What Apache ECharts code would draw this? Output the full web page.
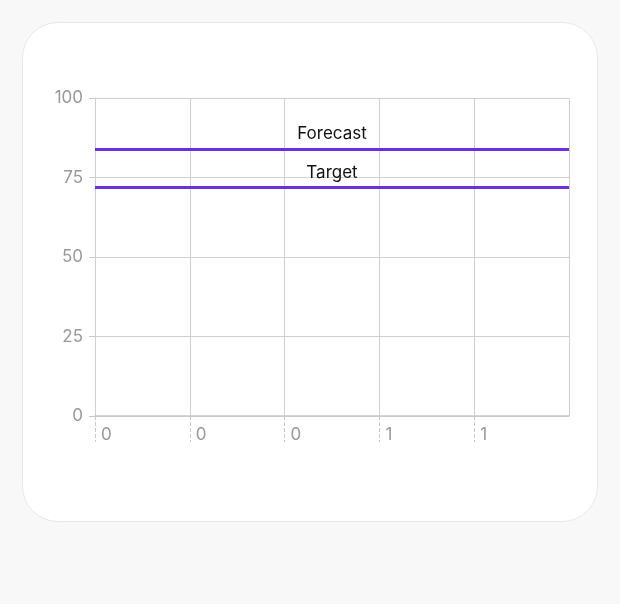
<!DOCTYPE html>
<html>
<head>
<meta charset="utf-8">
<script src="https://cdn.jsdelivr.net/npm/echarts@6/dist/echarts.min.js"></script>
<style>
	html, body { margin: 0; padding: 0; background: #f8f8f8; }
	.card {
		position: absolute; left: 22px; top: 22px; width: 574px; height: 498px;
		background: #fff; border: 1px solid #e8e8e8; border-radius: 36px; overflow: hidden;
	}
	#chart { width: 574px; height: 498px; }
</style>
</head>
<body>
<div class="card"><div id="chart"></div></div>
<script>
var xTickLabels = ['0', '0', '0', '1', '1'];
var yTicks = [0, 25, 50, 75, 100];
var lineNames = ['Forecast', 'Target'];
var lineValues = [84, 72];

var chart = echarts.init(document.getElementById('chart'));
chart.setOption({
	animation: false,
	textStyle: { fontFamily: 'Inter' },
	grid: { left: 72, top: 75, right: 28, bottom: 105 },
	xAxis: {
		type: 'value',
		min: 0,
		max: xTickLabels.length,
		interval: 1,
		axisLine: { show: true, lineStyle: { color: '#c8c8c8', width: 1.5 } },
		axisTick: { show: true, length: 26, lineStyle: { color: '#c8c8c8', type: 'dashed' } },
		splitLine: { show: true, lineStyle: { color: '#cfcfcf' } },
		axisLabel: {
			showMaxLabel: false,
			align: 'left',
			padding: [0, 0, 0, 6],
			margin: 10,
			color: '#999',
			fontSize: 17,
			formatter: function (v) { return xTickLabels[v] || ''; }
		}
	},
	yAxis: {
		type: 'value',
		min: yTicks[0],
		max: yTicks[yTicks.length - 1],
		interval: yTicks[1] - yTicks[0],
		axisLine: { show: true, lineStyle: { color: '#cfcfcf' } },
		axisTick: { show: true, length: 6, lineStyle: { color: '#c8c8c8' } },
		splitLine: { show: true, lineStyle: { color: '#cfcfcf' } },
		axisLabel: { color: '#999', fontSize: 17, margin: 12 }
	},
	series: [{
		type: 'line',
		data: [],
		markLine: {
			silent: true,
			symbol: 'none',
			lineStyle: { color: '#6c2fe0', width: 3, type: 'solid' },
			label: {
				position: 'insideMiddleTop',
				color: '#111',
				fontSize: 17,
				distance: 6,
				formatter: '{b}'
			},
			data: lineNames.map(function (n, i) {
				return { name: n, yAxis: lineValues[i] };
			})
		}
	}]
});
</script>
</body>
</html>
